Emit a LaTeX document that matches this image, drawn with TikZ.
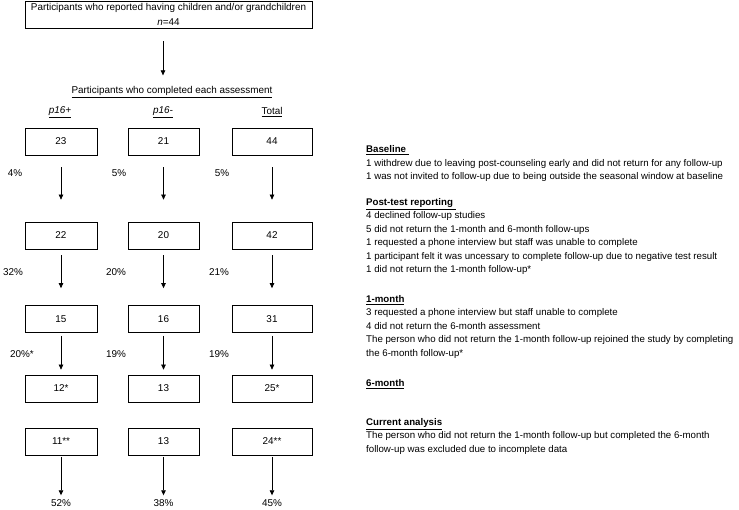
\documentclass[tikz,border=0pt]{standalone}
\usepackage{fontspec}
\setmainfont{Liberation Sans}
\usetikzlibrary{arrows.meta}
\begin{document}
\begin{tikzpicture}[x=1pt,y=-1pt,
  every node/.style={font=\fontsize{9.9}{12}\selectfont, inner sep=0pt},
  numbox/.style={draw, line width=0.7pt, minimum height=27pt},
  c1/.style={numbox, minimum width=72pt},
  c2/.style={numbox, minimum width=71pt},
  c3/.style={numbox, minimum width=80pt},
  arr/.style={-{Triangle[length=5pt,width=4.5pt]}, line width=0.7pt},
  rt/.style={anchor=base west, font=\fontsize{9.7}{12}\selectfont}]
\useasboundingbox (0,0) rectangle (739,510);

% top box
\node[draw, line width=0.7pt, minimum width=287pt, minimum height=27pt] (top) at (168.5,14.5) {};
\node (topa) at (168.5,8.3) {Participants who reported having children and/or grandchildren};
\node (topb) at (168.5,21.7) {\textit{n}=44};
\node (head) at (172,92) {\underline{Participants who completed each assessment}};
\draw[arr] (top.south) ++(-5.5,13) coordinate (ta) -- ++(0,34) coordinate (tb);

\node (h1) at (60,112) {\underline{\textit{p16+}}};
\node (h2) at (163,112) {\underline{\textit{p16-}}};
\node (h3) at (272,112) {\underline{Total}};

% boxes
\node[c1] (a1) at (61,141.5) {23};
\node[c2] (a2) at (163.5,141.5) {21};
\node[c3] (a3) at (272,141.5) {44};
\node[c1] (b1) at (61,235.5) {22};
\node[c2] (b2) at (163.5,235.5) {20};
\node[c3] (b3) at (272,235.5) {42};
\node[c1] (d1) at (61,319) {15};
\node[c2] (d2) at (163.5,319) {16};
\node[c3] (d3) at (272,319) {31};
\node[c1] (e1) at (61,388.5) {12*};
\node[c2] (e2) at (163.5,388.5) {13};
\node[c3] (e3) at (272,388.5) {25*};
\node[c1] (f1) at (61,441.5) {11**};
\node[c2] (f2) at (163.5,441.5) {13};
\node[c3] (f3) at (272,441.5) {24**};

% bottom labels
\node (g1) at (61,503) {52\%};
\node (g2) at (163.5,503) {38\%};
\node (g3) at (272,503) {45\%};

% arrows
\foreach \c in {1,2,3}{
  \draw[arr, shorten <=12pt, shorten >=22pt] (a\c) -- (b\c);
  \draw[arr, shorten <=6pt, shorten >=17pt] (b\c) -- (d\c);
  \draw[arr, shorten <=3pt, shorten >=5pt] (d\c) -- (e\c);
  \draw[arr, shorten <=2pt, shorten >=4pt] (f\c) -- (g\c);
}

% percentages
\node (p11) at (15,173) {4\%};
\node (p12) at (119,173) {5\%};
\node (p13) at (222,173) {5\%};
\node (p21) at (13,272) {32\%};
\node (p22) at (116,272) {20\%};
\node (p23) at (219,272) {21\%};
\node (p31) at (22,354) {20\%*};
\node (p32) at (116,354) {19\%};
\node (p33) at (219,354) {19\%};

% right-hand text
\node[rt] (r1) at (366,153) {\underline{\textbf{Baseline}\hspace{3pt}}};
\node[rt] (r2) at (366,166.4) {1 withdrew due to leaving post-counseling early and did not return for any follow-up};
\node[rt] (r3) at (366,179.8) {1 was not invited to follow-up due to being outside the seasonal window at baseline};
\node[rt] (r4) at (366,205.5) {\underline{\textbf{Post-test reporting}\hspace{3pt}}};
\node[rt] (r5) at (366,218.9) {4 declined follow-up studies};
\node[rt] (r6) at (366,232.3) {5 did not return the 1-month and 6-month follow-ups};
\node[rt] (r7) at (366,245.7) {1 requested a phone interview but staff was unable to complete};
\node[rt] (r8) at (366,259.1) {1 participant felt it was uncessary to complete follow-up due to negative test result};
\node[rt] (r9) at (366,272.5) {1 did not return the 1-month follow-up*};
\node[rt] (r10) at (366,302.5) {\underline{\textbf{1-month}}};
\node[rt] (r11) at (366,315.9) {3 requested a phone interview but staff unable to complete};
\node[rt] (r12) at (366,329.3) {4 did not return the 6-month assessment};
\node[rt] (r13) at (366,342.7) {The person who did not return the 1-month follow-up rejoined the study by completing};
\node[rt] (r14) at (366,356.1) {the 6-month follow-up*};
\node[rt] (r15) at (366,386.5) {\underline{\textbf{6-month}}};
\node[rt] (r16) at (366,425.5) {\underline{\textbf{Current analysis}}};
\node[rt] (r17) at (366,438.9) {The person who did not return the 1-month follow-up but completed the 6-month};
\node[rt] (r18) at (366,452.3) {follow-up was excluded due to incomplete data};
\end{tikzpicture}
\end{document}
